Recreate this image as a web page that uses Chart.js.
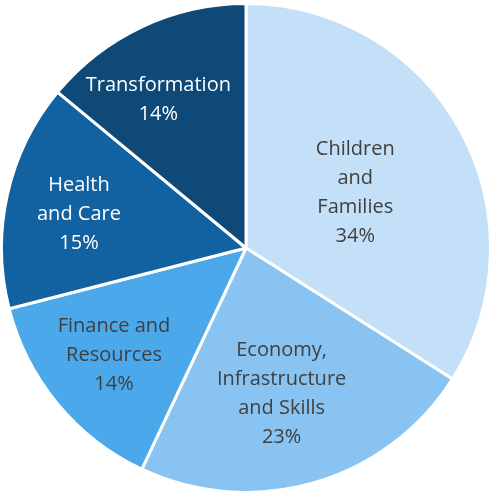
<!DOCTYPE html>
<html>
<head>
<meta charset="utf-8">
<script src="https://cdn.jsdelivr.net/npm/chart.js@4/dist/chart.umd.min.js"></script>
<style>
html,body{margin:0;padding:0;background:#fff;}
#wrap{width:492px;height:496px;position:relative;}
</style>
</head>
<body>
<div id="wrap"><canvas id="c" width="492" height="496"></canvas></div>
<script>
const categories = [
  ["Children", "and", "Families"],
  ["Economy,", "Infrastructure", "and Skills"],
  ["Finance and", "Resources"],
  ["Health", "and Care"],
  ["Transformation"]
];
const shares = [34, 23, 14, 15, 14];
const sliceColors = ["#C3E0F8", "#88C3F2", "#4BA8EA", "#1261A0", "#0E4977"];
const labelColors = ["#404040", "#404040", "#404040", "#FFFFFF", "#FFFFFF"];

const labelPlugin = {
  id: "sliceLabels",
  afterDatasetsDraw(chart) {
    const ctx = chart.ctx;
    const meta = chart.getDatasetMeta(0);
    const radFrac = [0.51, 0.61, 0.69, 0.70, 0.64];
    const shiftX = [0, -6, -2, 0, -21];
    const shiftY = [5, 3, 0, 4, -7];
    ctx.save();
    ctx.font = "20px 'Open Sans', sans-serif";
    ctx.textAlign = "center";
    ctx.textBaseline = "middle";
    meta.data.forEach((arc, i) => {
      const p = arc.getProps(["x", "y", "startAngle", "endAngle", "outerRadius"], true);
      const mid = (p.startAngle + p.endAngle) / 2;
      const r = p.outerRadius * radFrac[i];
      const cx = p.x + Math.cos(mid) * r + shiftX[i];
      const cy = p.y + Math.sin(mid) * r + shiftY[i];
      const lines = categories[i].concat([shares[i] + "%"]);
      const lh = 29;
      const top = cy - (lines.length - 1) * lh / 2;
      ctx.fillStyle = labelColors[i];
      lines.forEach((t, k) => ctx.fillText(t, cx, top + k * lh));
    });
    ctx.restore();
  }
};

new Chart(document.getElementById("c"), {
  type: "pie",
  data: {
    labels: categories.map(c => c.join(" ")),
    datasets: [{
      data: shares,
      backgroundColor: sliceColors,
      borderColor: "#FFFFFF",
      borderWidth: 3
    }]
  },
  options: {
    responsive: false,
    animation: false,
    layout: { padding: 0 },
    plugins: { legend: { display: false }, tooltip: { enabled: false } }
  },
  plugins: [labelPlugin]
});
</script>
</body>
</html>
